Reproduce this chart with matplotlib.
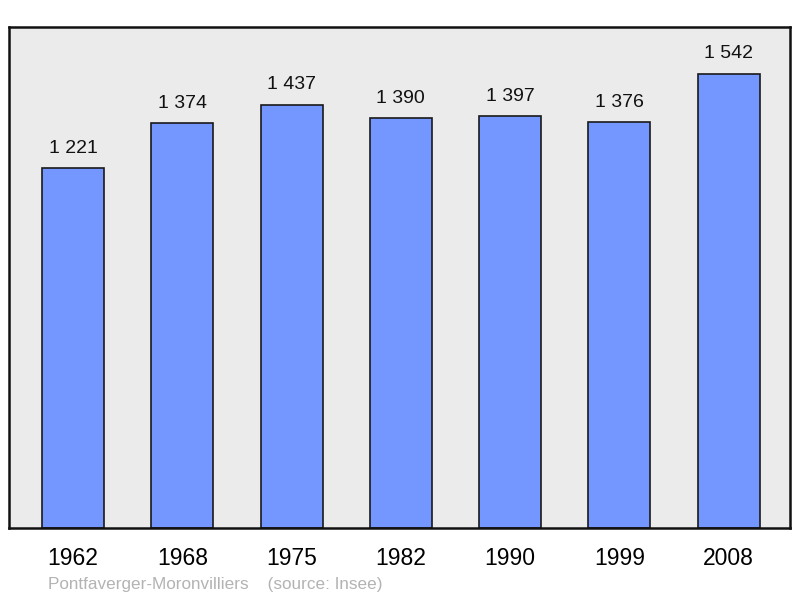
import matplotlib.pyplot as plt

plt.rcParams['font.family'] = ['Liberation Sans', 'DejaVu Sans']

# data
years = ['1962', '1968', '1975', '1982', '1990', '1999', '2008']
population = [1221, 1374, 1437, 1390, 1397, 1376, 1542]
labels = ['1 221', '1 374', '1 437', '1 390', '1 397', '1 376', '1 542']

fig = plt.figure(figsize=(8, 5.98), dpi=100)
ax = fig.add_axes([9 / 800, 70 / 598, 781 / 800, 501 / 598])
ax.set_facecolor('#ebebeb')

x = list(range(len(years)))
bars = ax.bar(x, population, width=0.567, color='#7396ff',
              edgecolor='#1a1a1a', linewidth=1.2, zorder=2)

for xi, v, lab in zip(x, population, labels):
    ax.annotate(lab, (xi, v), xytext=(0, 8), textcoords='offset points',
                ha='center', va='bottom', fontsize=14, color='#111111')

ax.set_xlim(-0.585, 6.56)
ax.set_ylim(0, 1700)
ax.set_yticks([])
ax.set_xticks(x)
ax.set_xticklabels(years, fontsize=16.5)
ax.tick_params(axis='x', length=0, pad=14)
for s in ax.spines.values():
    s.set_linewidth(1.8)
    s.set_color('#111111')

fig.text(48 / 800, 1 - 584 / 598, 'Pontfaverger-Moronvilliers    (source: Insee)',
         fontsize=12.3, color='#b3b3b3', va='center', ha='left')

fig.savefig('out.png', dpi=100)
